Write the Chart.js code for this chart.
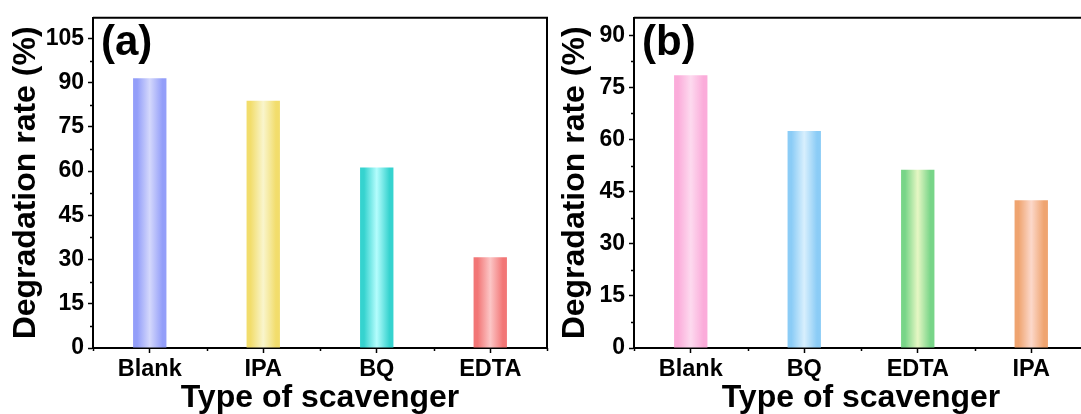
<!DOCTYPE html>
<html>
<head>
<meta charset="utf-8">
<script src="https://cdn.jsdelivr.net/npm/chart.js@4/dist/chart.umd.min.js"></script>
<style>
  html, body { margin: 0; padding: 0; background: #fff; overflow: hidden; }
  #wrap { position: relative; width: 1081px; height: 414px; overflow: hidden; }
  canvas { position: absolute; top: 0; }
  #chartA { left: 0; }
  #chartB { left: 541px; }
</style>
</head>
<body>
<div id="wrap">
  <canvas id="chartA" width="560" height="414"></canvas>
  <canvas id="chartB" width="560" height="414"></canvas>
</div>
<script>
// PANEL (a) DATA
const scavengersA = ["Blank", "IPA", "BQ", "EDTA"];
const ratesA = [91.5, 83.9, 61.2, 30.8];

// PANEL (b) DATA
const scavengersB = ["Blank", "BQ", "EDTA", "IPA"];
const ratesB = [78.5, 62.4, 51.3, 42.5];

// bar colours: edge shade and centre highlight
const edgeA = ["#939ef9", "#f2dd6c", "#36d3cf", "#f27676"];
const glowA = ["#d4d8fc", "#f9f5cc", "#b4fdfd", "#fcc6c6"];
const edgeB = ["#fbacda", "#8bccf6", "#78d588", "#efa470"];
const glowB = ["#fddaef", "#d8effd", "#e6f7c4", "#fcd8ca"];

const FONT = "'Liberation Sans', Arial, Helvetica, sans-serif";
const BAR_PCT = 0.294;

// horizontal gradient across each bar, darker at the sides
function barFill(edge, glow) {
  return (c) => {
    const chart = c.chart;
    const x = chart.scales.x;
    if (!chart.chartArea || !x) return edge[c.dataIndex];
    const cx = x.getPixelForValue(c.dataIndex);
    const half = (x.width / x.ticks.length) * BAR_PCT / 2;
    const g = chart.ctx.createLinearGradient(cx - half, 0, cx + half, 0);
    g.addColorStop(0, edge[c.dataIndex]);
    g.addColorStop(0.12, edge[c.dataIndex]);
    g.addColorStop(0.5, glow[c.dataIndex]);
    g.addColorStop(0.88, edge[c.dataIndex]);
    g.addColorStop(1, edge[c.dataIndex]);
    return g;
  };
}

// closes the frame and adds minor ticks plus the panel letter
const framePlugin = {
  id: "frame",
  afterDraw(chart, args, opts) {
    const { ctx, chartArea: a } = chart;
    const x = chart.scales.x, y = chart.scales.y;
    ctx.save();
    ctx.strokeStyle = "#000";
    ctx.lineWidth = 2;
    ctx.beginPath();
    ctx.moveTo(a.left, a.top);
    ctx.lineTo(a.right, a.top);
    ctx.lineTo(a.right, a.bottom);
    ctx.stroke();

    ctx.lineWidth = 1.5;
    ctx.beginPath();
    for (let i = 0; i <= x.ticks.length; i++) {
      const px = Math.round(x.getPixelForValue(i - 0.5)) + 0.5;
      ctx.moveTo(px, a.bottom);
      ctx.lineTo(px, a.bottom + 3);
    }
    for (let v = 7.5; v < y.max; v += 15) {
      const py = Math.round(y.getPixelForValue(v)) + 0.5;
      ctx.moveTo(a.left, py);
      ctx.lineTo(a.left - 3, py);
    }
    ctx.stroke();

    ctx.fillStyle = "#000";
    ctx.font = "bold 42px " + FONT;
    ctx.textBaseline = "alphabetic";
    ctx.fillText(opts.letter, a.left + 8, 55);
    ctx.restore();
  },
};

function makeChart(id, labels, values, edge, glow, yMax, letter, yTitlePad) {
  return new Chart(document.getElementById(id), {
    type: "bar",
    data: {
      labels: labels,
      datasets: [
        {
          data: values,
          backgroundColor: barFill(edge, glow),
          borderWidth: 0,
          barPercentage: BAR_PCT,
          categoryPercentage: 1,
        },
      ],
    },
    options: {
      responsive: false,
      animation: false,
      devicePixelRatio: 1,
      layout: { padding: { top: 14, right: 13, bottom: 0, left: 0 } },
      plugins: {
        legend: { display: false },
        tooltip: { enabled: false },
        frame: { letter: letter },
      },
      scales: {
        x: {
          offset: true,
          afterFit: (s) => { s.height = 66; },
          border: { display: true, color: "#000", width: 2 },
          grid: {
            offset: false,
            drawOnChartArea: false,
            tickLength: 5,
            tickColor: "#000",
            tickWidth: 1.5,
          },
          ticks: {
            color: "#000",
            padding: 2,
            maxRotation: 0,
            font: { family: FONT, size: 23.5, weight: "bold" },
          },
          title: {
            display: true,
            text: "Type of scavenger",
            color: "#000",
            padding: { top: 0, bottom: 0 },
            font: { family: FONT, size: 32, weight: "bold", lineHeight: 1 },
          },
        },
        y: {
          min: 0,
          max: yMax,
          afterFit: (s) => { s.width = 93; },
          border: { display: true, color: "#000", width: 2 },
          grid: {
            drawOnChartArea: false,
            tickLength: 5,
            tickColor: "#000",
            tickWidth: 1.5,
          },
          ticks: {
            stepSize: 15,
            includeBounds: false,
            color: "#000",
            padding: 4,
            font: { family: FONT, size: 23, weight: "bold" },
          },
          title: {
            display: true,
            text: "Degradation rate (%)",
            color: "#000",
            padding: { top: yTitlePad, bottom: 0 },
            font: { family: FONT, size: 32, weight: "bold", lineHeight: 1 },
          },
        },
      },
    },
    plugins: [framePlugin],
  });
}

makeChart("chartA", scavengersA, ratesA, edgeA, glowA, 112, "(a)", 10);
makeChart("chartB", scavengersB, ratesB, edgeB, glowB, 95, "(b)", 18.5);
</script>
</body>
</html>
